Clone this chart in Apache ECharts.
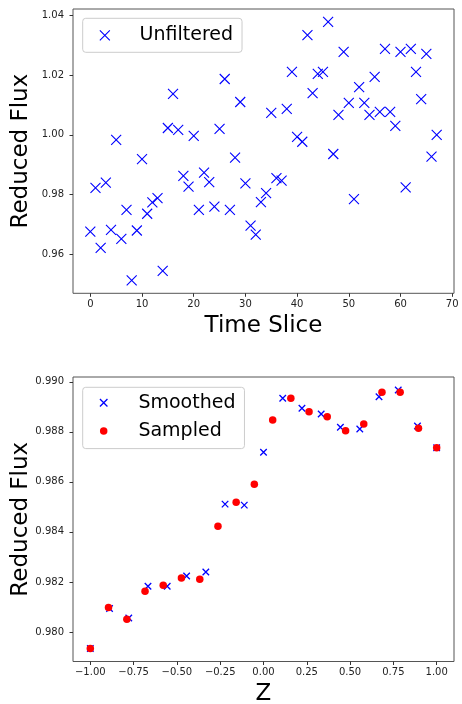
<!DOCTYPE html>
<html>
<head>
<meta charset="utf-8">
<script src="https://cdn.jsdelivr.net/npm/echarts@6/dist/echarts.min.js"></script>
<style>
html,body{margin:0;padding:0;background:#fff;}
#chart{width:462px;height:704px;}
</style>
</head>
<body>
<div id="chart"></div>
<script>
// ---------- data ----------
var timeSlice = [0,1,2,3,4,5,6,7,8,9,10,11,12,13,14,15,16,17,18,19,20,21,22,23,24,25,26,27,28,29,30,31,32,33,34,35,36,37,38,39,40,41,42,43,44,45,46,47,48,49,50,51,52,53,54,55,56,57,58,59,60,61,62,63,64,65,66,67];
var unfilteredFlux = [0.9676,0.9823,0.9622,0.9840,0.9682,0.9983,0.9652,0.9749,0.9513,0.9680,
  0.9919,0.9736,0.9774,0.9788,0.9545,1.0023,1.0137,1.0017,0.9863,0.9827,
  0.9997,0.9749,0.9874,0.9842,0.9760,1.0020,1.0187,0.9749,0.9924,1.0110,
  0.9838,0.9696,0.9666,0.9775,0.9805,1.0074,0.9855,0.9847,1.0087,1.0211,
  0.9993,0.9977,1.0334,1.0140,1.0204,1.0211,1.0378,0.9936,1.0067,1.0278,
  1.0107,0.9785,1.0160,1.0107,1.0067,1.0194,1.0077,1.0288,1.0077,1.0030,
  1.0278,0.9824,1.0288,1.0211,1.0120,1.0271,0.9927,1.0000];

var smoothedZ = [-1,-0.889,-0.778,-0.667,-0.556,-0.444,-0.333,-0.222,-0.111,0,0.111,0.222,0.333,0.444,0.556,0.667,0.778,0.889,1];
var smoothedFlux = [0.97934,0.98094,0.98056,0.98183,0.98183,0.98224,0.98240,0.98511,0.98507,0.98718,0.98934,0.98894,0.98871,0.98818,0.98811,0.98940,0.98967,0.98823,0.98736];

var sampledZ = [-1,-0.895,-0.789,-0.684,-0.579,-0.474,-0.368,-0.263,-0.158,-0.053,0.053,0.158,0.263,0.368,0.474,0.579,0.684,0.789,0.895,1];
var sampledFlux = [0.97934,0.98098,0.98051,0.98163,0.98187,0.98216,0.98211,0.98423,0.98518,0.98590,0.98847,0.98934,0.98880,0.98860,0.98804,0.98831,0.98958,0.98958,0.98814,0.98736];

// tick labels
var topXTicks = [0,10,20,30,40,50,60,70];
var topYTicks = [0.96,0.98,1.00,1.02,1.04];
var botXTicks = [-1.00,-0.75,-0.50,-0.25,0.00,0.25,0.50,0.75,1.00];
var botYTicks = [0.980,0.982,0.984,0.986,0.988,0.990];

// ---------- helpers ----------
function zip(a,b){ return a.map(function(v,i){ return [v,b[i]]; }); }
var FONT = 'DejaVu Sans';
var xPath = 'path://M0,0L10,10M0,10L10,0';
function fmt(d){ return function(v){ var s = Math.abs(v).toFixed(d); return (v < -1e-9 ? '\u2212' : '') + s; }; }

function axis(opt){
  return {
    type:'value', gridIndex:opt.grid, min:opt.min, max:opt.max,
    name:opt.name, nameLocation:'middle', nameGap:opt.nameGap, nameMoveOverlap:false,
    nameTextStyle:{fontFamily:FONT, fontSize:23, color:'#000'},
    axisLine:{show:false, onZero:false},
    splitLine:{show:false},
    axisTick:{show:true, inside:false, length:3.5, customValues:opt.ticks, lineStyle:{color:'#333', width:1}},
    axisLabel:{show:true, customValues:opt.ticks, formatter:opt.fmt, fontFamily:FONT, fontSize:10, color:'#222', margin:opt.margin, hideOverlap:false, showMinLabel:true, showMaxLabel:true},
    scale:true
  };
}

var chart = echarts.init(document.getElementById('chart'), null, {renderer:'canvas'});
var option = {
  backgroundColor:'#fff',
  animation:false,
  grid:[
    {left:73, top:9, width:381, height:284.3, show:true, borderColor:'#555', borderWidth:1, backgroundColor:'transparent', containLabel:false, outerBoundsMode:'none'},
    {left:73, top:377, width:381, height:284.5, show:true, borderColor:'#555', borderWidth:1, backgroundColor:'transparent', containLabel:false, outerBoundsMode:'none'}
  ],
  xAxis:[
    axis({grid:0, min:-3.35, max:70.35, name:'Time Slice', nameGap:21, ticks:topXTicks, fmt:fmt(0), margin:6}),
    axis({grid:1, min:-1.1, max:1.1, name:'Z', nameGap:21, ticks:botXTicks, fmt:fmt(2), margin:6})
  ],
  yAxis:[
    axis({grid:0, min:0.94698, max:1.04213, name:'Reduced Flux', nameGap:40, ticks:topYTicks, fmt:fmt(2), margin:9}),
    axis({grid:1, min:0.97882, max:0.99019, name:'Reduced Flux', nameGap:40, ticks:botYTicks, fmt:fmt(3), margin:9})
  ],
  legend:[
    {
      orient:'vertical', left:82.7, top:18.3, padding:[7,9,7,16.6],
      backgroundColor:'rgba(255,255,255,0.8)', borderColor:'#ccc', borderWidth:1, borderRadius:3,
      itemWidth:20, itemHeight:10,
      textStyle:{fontFamily:FONT, fontSize:19, color:'#000', lineHeight:20, padding:[0,0,0,19.7]},
      data:[{name:'Unfiltered', icon:xPath, itemStyle:{color:'#0000ff', borderColor:'#0000ff', borderWidth:1.1}}],
      selectedMode:false
    },
    {
      orient:'vertical', left:82.7, top:387.3, padding:[5.4,9,7.6,16.6], itemGap:8.3,
      backgroundColor:'rgba(255,255,255,0.8)', borderColor:'#ccc', borderWidth:1, borderRadius:3,
      itemWidth:20, itemHeight:7.5,
      textStyle:{fontFamily:FONT, fontSize:19, color:'#000', lineHeight:20, padding:[0,0,0,19.7]},
      data:[
        {name:'Smoothed', icon:xPath, itemStyle:{color:'#0000ff', borderColor:'#0000ff', borderWidth:1.3}},
        {name:'Sampled', icon:'circle', itemStyle:{color:'#ff0000', borderWidth:0}}
      ],
      selectedMode:false
    }
  ],
  series:[
    {
      name:'Unfiltered', type:'scatter', xAxisIndex:0, yAxisIndex:0,
      symbol:xPath, symbolSize:10,
      itemStyle:{color:'#0000ff', borderColor:'#0000ff', borderWidth:1.1, opacity:1},
      data:zip(timeSlice, unfilteredFlux), z:3
    },
    {
      name:'Smoothed', type:'scatter', xAxisIndex:1, yAxisIndex:1,
      symbol:xPath, symbolSize:6.5,
      itemStyle:{color:'#0000ff', borderColor:'#0000ff', borderWidth:1.3, opacity:1},
      data:zip(smoothedZ, smoothedFlux), z:3
    },
    {
      name:'Sampled', type:'scatter', xAxisIndex:1, yAxisIndex:1,
      symbol:'circle', symbolSize:7.5,
      itemStyle:{color:'#ff0000', borderWidth:0, opacity:1},
      data:zip(sampledZ, sampledFlux), z:4
    }
  ]
};
chart.setOption(option);
</script>
</body>
</html>
